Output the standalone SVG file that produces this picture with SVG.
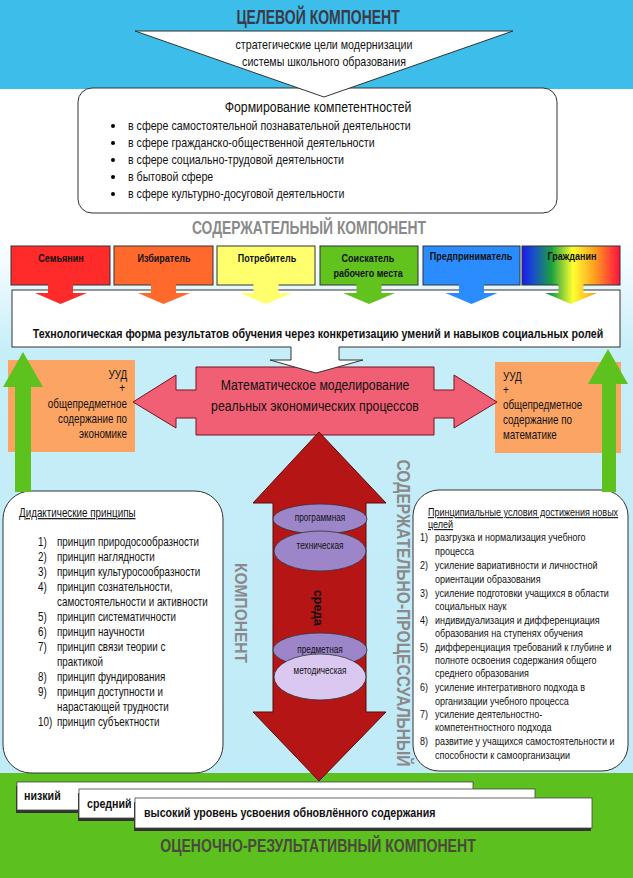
<svg xmlns="http://www.w3.org/2000/svg" width="633" height="878" viewBox="0 0 633 878">
<defs>
<style>
text{font-family:"Liberation Sans",Arial,sans-serif;fill:#111;transform-box:fill-box;transform-origin:0 50%;transform:scaleX(.82);}
.c{text-anchor:middle;transform-origin:50% 50%;}
.e{text-anchor:end;transform-origin:100% 50%;}
.r{transform:none;}
.ttl{font-weight:bold;font-size:17px;}
.role{font-weight:bold;font-size:11px;}
.box{stroke:#333;stroke-width:1;}
.li{font-size:12px;}
.ri{font-size:11px;}
.uu{font-size:12px;}
.el{stroke:#333;stroke-width:0.8;}
.elt{font-size:10px;}
.lvl{font-weight:bold;font-size:13px;}
</style>
<linearGradient id="bg" x1="0" y1="0" x2="0" y2="878" gradientUnits="userSpaceOnUse">
<stop offset="0" stop-color="#ffffff"/>
<stop offset="0.27" stop-color="#ffffff"/>
<stop offset="0.4" stop-color="#c6eef9"/>
<stop offset="1" stop-color="#bfeaf7"/>
</linearGradient>
<linearGradient id="rainbow" x1="522" y1="0" x2="620" y2="0" gradientUnits="userSpaceOnUse">
<stop offset="0" stop-color="#1a1aee"/>
<stop offset="0.12" stop-color="#1850c8"/>
<stop offset="0.3" stop-color="#1aa040"/>
<stop offset="0.52" stop-color="#ffff30"/>
<stop offset="0.75" stop-color="#ff9a20"/>
<stop offset="1" stop-color="#ff1040"/>
</linearGradient>
</defs>

<!-- backgrounds -->
<rect x="0" y="0" width="633" height="878" fill="url(#bg)"/>
<rect x="0" y="0" width="633" height="89" fill="#3dbde9"/>
<rect x="0" y="773" width="633" height="105" fill="#5cc01e"/>

<g id="title-goal">
<text class="ttl c" x="318" y="24" style="fill:#3a3a48;font-size:20px;transform:scaleX(.7)">ЦЕЛЕВОЙ КОМПОНЕНТ</text>
</g>

<g id="competencies">
<rect x="78" y="88" width="479" height="125" rx="14" fill="#fff" class="box"/>
<text class="c" x="318" y="112" style="font-size:15px">Формирование компетентностей</text>
<g style="font-size:13px">
<circle cx="113" cy="126" r="2"/><text x="128" y="130">в сфере самостоятельной познавательной деятельности</text>
<circle cx="113" cy="143" r="2"/><text x="128" y="147">в сфере гражданско-общественной деятельности</text>
<circle cx="113" cy="160" r="2"/><text x="128" y="164">в сфере социально-трудовой деятельности</text>
<circle cx="113" cy="177" r="2"/><text x="128" y="181">в бытовой сфере</text>
<circle cx="113" cy="194" r="2"/><text x="128" y="198">в сфере культурно-досуговой деятельности</text>
</g>
</g>

<g id="goal-triangle">
<polygon points="135,31 513,31 324,97" fill="#fff" stroke="#333" stroke-width="1"/>
<text class="c" x="324" y="49" style="font-size:13px">стратегические цели модернизации</text>
<text class="c" x="324" y="66" style="font-size:13px">системы школьного образования</text>
</g>

<g id="title-content">
<text class="ttl c" x="309" y="234" style="fill:#8a8a8a;font-size:18px;transform:scaleX(.77)">СОДЕРЖАТЕЛЬНЫЙ КОМПОНЕНТ</text>
</g>

<g id="tech-form">
<rect x="12" y="290" width="608" height="57" fill="#fff" class="box"/>
<text class="c" x="318" y="338" style="font-weight:bold;font-size:13px">Технологическая форма результатов обучения через конкретизацию умений и навыков социальных ролей</text>
</g>

<g id="roles">
<g id="role-family">
<rect x="11" y="246" width="99" height="39" fill="#ff2a2a" class="box"/>
<path d="M48,284 H73 V293 H87 L60.5,304 L35,293 H48 Z" fill="#ff2a2a"/>
<text class="role c" x="61" y="262">Семьянин</text>
</g>
<g id="role-voter">
<rect x="114" y="246" width="99" height="39" fill="#ff6a2c" class="box"/>
<path d="M151,284 H176 V293 H190 L163.5,304 L138,293 H151 Z" fill="#ff6a2c"/>
<text class="role c" x="164" y="262">Избиратель</text>
</g>
<g id="role-consumer">
<rect x="217" y="246" width="98" height="39" fill="#ffff6e" class="box"/>
<path d="M253.5,284 H278.5 V293 H292 L266,304 L240,293 H253.5 Z" fill="#ffff6e"/>
<text class="role c" x="267" y="262">Потребитель</text>
</g>
<g id="role-jobseeker">
<rect x="320" y="246" width="98" height="39" fill="#62c21e" class="box"/>
<path d="M356.5,284 H381.5 V293 H395 L369,304 L343,293 H356.5 Z" fill="#62c21e"/>
<text class="role c" x="368" y="262">Соискатель</text>
<text class="role c" x="368" y="277">рабочего места</text>
</g>
<g id="role-entrepreneur">
<rect x="423" y="246" width="97" height="39" fill="#2a8cff" class="box"/>
<path d="M459,284 H484 V293 H497.5 L471.5,304 L445.5,293 H459 Z" fill="#2a8cff"/>
<text class="role c" x="471" y="260">Предприниматель</text>
</g>
<g id="role-citizen">
<rect x="522" y="246" width="98" height="39" fill="url(#rainbow)" class="box"/>
<path d="M558.5,284 H583.5 V293 H597 L571,304 L545,293 H558.5 Z" fill="url(#rainbow)"/>
<text class="role c" x="572" y="260">Гражданин</text>
</g>
</g>

<g id="uud-economics">
<rect x="8" y="360" width="127" height="92" fill="#fba463"/>
<text class="uu e" x="127" y="379">УУД</text>
<text class="uu e" x="125" y="392">+</text>
<text class="uu e" x="127" y="408">общепредметное</text>
<text class="uu e" x="127" y="423">содержание по</text>
<text class="uu e" x="127" y="438">экономике</text>
</g>

<g id="uud-math">
<rect x="495" y="362" width="126" height="91" fill="#fba463"/>
<text class="uu" x="503" y="381">УУД</text>
<text class="uu" x="503" y="394">+</text>
<text class="uu" x="503" y="409">общепредметное</text>
<text class="uu" x="503" y="424">содержание по</text>
<text class="uu" x="503" y="439">математике</text>
</g>

<g id="math-modeling">
<path d="M133,402 L176,375 V390 H196 V367 H434 V390 H454 V375 L497,402 L454,428 V418 H434 V435 H196 V418 H176 V428 Z" fill="#f05f74" stroke="#7a1222" stroke-width="1"/>
<text class="c" x="315" y="390" style="font-size:15px">Математическое моделирование</text>
<text class="c" x="315" y="411" style="font-size:15px">реальных экономических процессов</text>
</g>

<g id="didactic">
<rect x="3" y="491" width="220" height="282" rx="28" fill="#fff" class="box"/>
<text x="19" y="517" class="li" text-decoration="underline">Дидактические принципы</text>
<text x="38" y="546" class="li">1)</text><text x="57" y="546" class="li">принцип природосообразности</text>
<text x="38" y="561" class="li">2)</text><text x="57" y="561" class="li">принцип наглядности</text>
<text x="38" y="576" class="li">3)</text><text x="57" y="576" class="li">принцип культуросообразности</text>
<text x="38" y="591" class="li">4)</text><text x="57" y="591" class="li">принцип сознательности,</text>
<text x="57" y="606" class="li">самостоятельности и активности</text>
<text x="38" y="621" class="li">5)</text><text x="57" y="621" class="li">принцип систематичности</text>
<text x="38" y="636" class="li">6)</text><text x="57" y="636" class="li">принцип научности</text>
<text x="38" y="651" class="li">7)</text><text x="57" y="651" class="li">принцип связи теории с</text>
<text x="57" y="666" class="li">практикой</text>
<text x="38" y="681" class="li">8)</text><text x="57" y="681" class="li">принцип фундирования</text>
<text x="38" y="696" class="li">9)</text><text x="57" y="696" class="li">принцип доступности и</text>
<text x="57" y="711" class="li">нарастающей трудности</text>
<text x="38" y="726" class="li">10)</text><text x="57" y="726" class="li">принцип субъектности</text>
</g>

<g id="conditions">
<rect x="413" y="490" width="215" height="281" rx="26" fill="#fff" class="box"/>
<text x="428" y="516" class="ri" text-decoration="underline">Принципиальные условия достижения новых</text>
<text x="428" y="528" class="ri" text-decoration="underline">целей</text>
<text x="420" y="541" class="ri">1)</text><text x="435" y="541" class="ri">разгрузка и нормализация учебного</text>
<text x="435" y="555" class="ri">процесса</text>
<text x="420" y="569" class="ri">2)</text><text x="435" y="569" class="ri">усиление вариативности и личностной</text>
<text x="435" y="583" class="ri">ориентации образования</text>
<text x="420" y="597" class="ri">3)</text><text x="435" y="597" class="ri">усиление подготовки учащихся в области</text>
<text x="435" y="610" class="ri">социальных наук</text>
<text x="420" y="624" class="ri">4)</text><text x="435" y="624" class="ri">индивидуализация и дифференциация</text>
<text x="435" y="637" class="ri">образования на ступенях обучения</text>
<text x="420" y="651" class="ri">5)</text><text x="435" y="651" class="ri">дифференциация требований к глубине и</text>
<text x="435" y="664" class="ri">полноте освоения содержания общего</text>
<text x="435" y="677" class="ri">среднего образования</text>
<text x="420" y="691" class="ri">6)</text><text x="435" y="691" class="ri">усиление интегративного подхода в</text>
<text x="435" y="705" class="ri">организации учебного процесса</text>
<text x="420" y="718" class="ri">7)</text><text x="435" y="718" class="ri">усиление деятельностно-</text>
<text x="435" y="731" class="ri">компетентностного подхода</text>
<text x="420" y="745" class="ri">8)</text><text x="435" y="745" class="ri">развитие у учащихся самостоятельности и</text>
<text x="435" y="759" class="ri">способности к самоорганизации</text>
</g>

<g id="process-labels">
<g transform="translate(235,613) rotate(90)">
<text class="r" x="0" y="0" style="font-weight:bold;font-size:17px;text-anchor:middle;fill:#8a8a8a" textLength="100" lengthAdjust="spacingAndGlyphs">КОМПОНЕНТ</text>
</g>
<g transform="translate(397,613) rotate(90)">
<text class="r" x="0" y="0" style="font-weight:bold;font-size:19px;text-anchor:middle;fill:#8a8a8a" textLength="307" lengthAdjust="spacingAndGlyphs">СОДЕРЖАТЕЛЬНО-ПРОЦЕССУАЛЬНЫЙ</text>
</g>
</g>

<g id="connectors">
<path d="M15,492 V387 H3 L23,352 L43,387 H31 V492 Z" fill="#5ec21e"/>
<path d="M602,492 V384 H588 L608,349 L628,384 H616 V492 Z" fill="#5ec21e"/>
<path d="M291,346 H339 V360 H363 L316,373 L270,360 H291 Z" fill="#fff"/>
<path d="M291,347 V360 H270 L316,373 L363,360 H339 V347" fill="none" stroke="#333" stroke-width="1"/>
</g>

<g id="environment">
<path d="M319,432 L386,503 H366 V712 H386 L319,781 L253,712 H273 V503 H253 Z" fill="#b51515" stroke="#5a0a0a" stroke-width="1"/>
<ellipse cx="320" cy="519" rx="47" ry="15" fill="#9c86c9" class="el"/>
<text class="elt c" x="320" y="521">программная</text>
<ellipse cx="320" cy="551" rx="46" ry="20" fill="#9c86c9" class="el"/>
<text class="elt c" x="320" y="549">техническая</text>
<g transform="translate(314,608) rotate(90)">
<text class="r" x="0" y="0" style="font-weight:bold;font-size:13px;text-anchor:middle" textLength="36" lengthAdjust="spacingAndGlyphs">среда</text>
</g>
<ellipse cx="320" cy="650" rx="47" ry="17" fill="#9c86c9" class="el"/>
<text class="elt c" x="320" y="653">предметная</text>
<ellipse cx="320" cy="677" rx="46" ry="23" fill="#dac8f0" class="el"/>
<text class="elt c" x="320" y="674">методическая</text>
</g>

<g id="levels">
<g id="level-low">
<rect x="16" y="786" width="456" height="27" fill="#333"/>
<rect x="17" y="782" width="456" height="28" fill="#fff" stroke="#444" stroke-width="0.8"/>
<text class="lvl" x="24" y="800">низкий</text>
</g>
<g id="level-mid">
<rect x="78" y="793" width="456" height="28" fill="#333"/>
<rect x="79" y="789" width="456" height="29" fill="#fff" stroke="#444" stroke-width="0.8"/>
<text class="lvl" x="87" y="808">средний</text>
</g>
<g id="level-high">
<rect x="134" y="802" width="457" height="29" fill="#333"/>
<rect x="135" y="798" width="457" height="30" fill="#fff" stroke="#444" stroke-width="0.8"/>
<text class="lvl" x="144" y="817">высокий уровень усвоения обновлённого содержания</text>
</g>
</g>

<g id="title-result">
<text class="ttl c" x="318" y="852" style="fill:#4a4a3c;font-size:18.5px;transform:scaleX(.76)">ОЦЕНОЧНО-РЕЗУЛЬТАТИВНЫЙ КОМПОНЕНТ</text>
</g>
</svg>
